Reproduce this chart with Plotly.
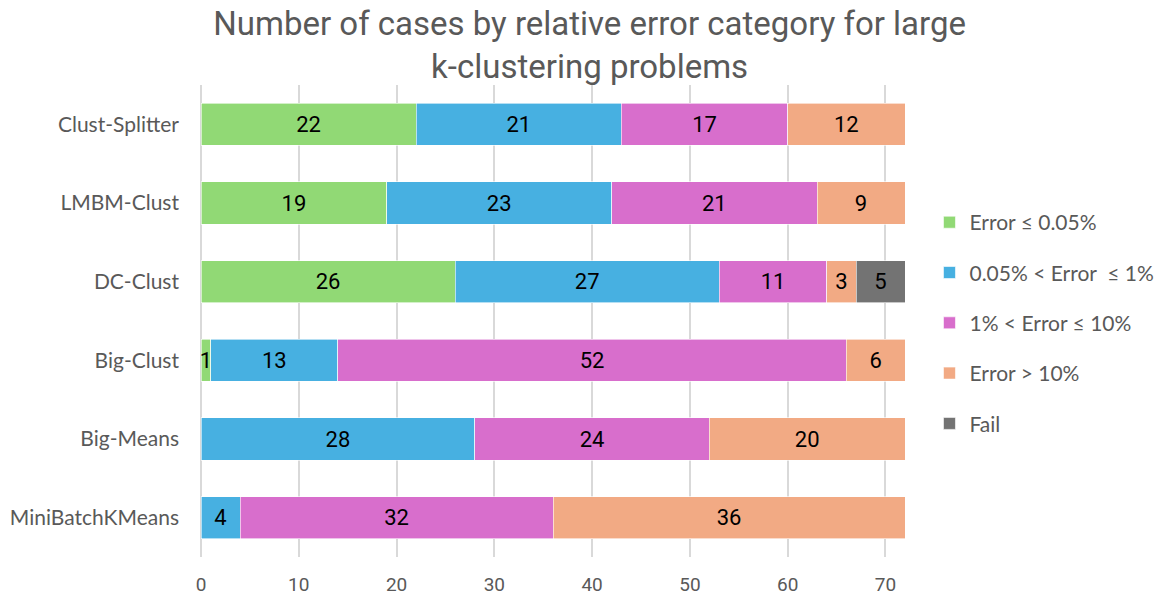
import plotly.graph_objects as go

methods = ["Clust-Splitter", "LMBM-Clust", "DC-Clust", "Big-Clust", "Big-Means", "MiniBatchKMeans"]
series_names = ["Error ≤ 0.05%", "0.05% < Error  ≤ 1%", "1% < Error ≤ 10%", "Error > 10%", "Fail"]
err_le_005 = [22, 19, 26, 1, None, None]
err_005_1 = [21, 23, 27, 13, 28, 4]
err_1_10 = [17, 21, 11, 52, 24, 32]
err_gt_10 = [12, 9, 3, 6, 20, 36]
fail = [None, None, 5, None, None, None]
x_ticks = [0, 10, 20, 30, 40, 50, 60, 70]

series_values = [err_le_005, err_005_1, err_1_10, err_gt_10, fail]
colors = ["#91D975", "#47B0E1", "#D86ECC", "#F2AA84", "#737373"]

narrow = "Roboto, sans-serif"

fig = go.Figure()
for name, vals, col in zip(series_names, series_values, colors):
    fig.add_trace(go.Bar(
        y=methods, x=vals, name=name, orientation="h",
        marker=dict(color=col, line=dict(color="white", width=0.6)),
        text=[("" if v is None else str(v)) for v in vals],
        textposition="inside", insidetextanchor="middle",
        textfont=dict(family=narrow, size=22, color="black"),
        constraintext="none", cliponaxis=False,
        legendgroup=name,
    ))

fig.update_layout(
    barmode="stack",
    bargap=0.465,
    width=1154, height=597,
    margin=dict(l=193, r=257, t=77, b=48),
    paper_bgcolor="white", plot_bgcolor="white",
    title=dict(
        text="Number of cases by relative error category for large<br>k-clustering problems",
        x=0.504, xanchor="center", y=0.955, yanchor="top",
        font=dict(family=narrow, size=33, color="#595959"),
    ),
    uniformtext=dict(minsize=22, mode="show"),
    legend=dict(
        xref="container", x=0.7985, xanchor="left", y=0.752, yanchor="top",
        traceorder="grouped", tracegroupgap=20,
        font=dict(family="Lato, sans-serif", size=21, color="#595959"),
        itemwidth=30,
    ),
    showlegend=True,
)
fig.update_xaxes(
    range=[0, 72], tickvals=x_ticks, showgrid=True, gridcolor="#D9D9D9", gridwidth=1.5,
    zeroline=True, zerolinecolor="#D9D9D9", zerolinewidth=1.5,
    ticks="", ticklabelstandoff=14, automargin=False,
    tickfont=dict(family=narrow, size=19, color="#595959"),
)
fig.update_yaxes(
    autorange="reversed", ticks="", ticklabelstandoff=21, automargin=False,
    tickfont=dict(family="Lato, sans-serif", size=21, color="#595959"),
)

fig.write_html("out.html")
